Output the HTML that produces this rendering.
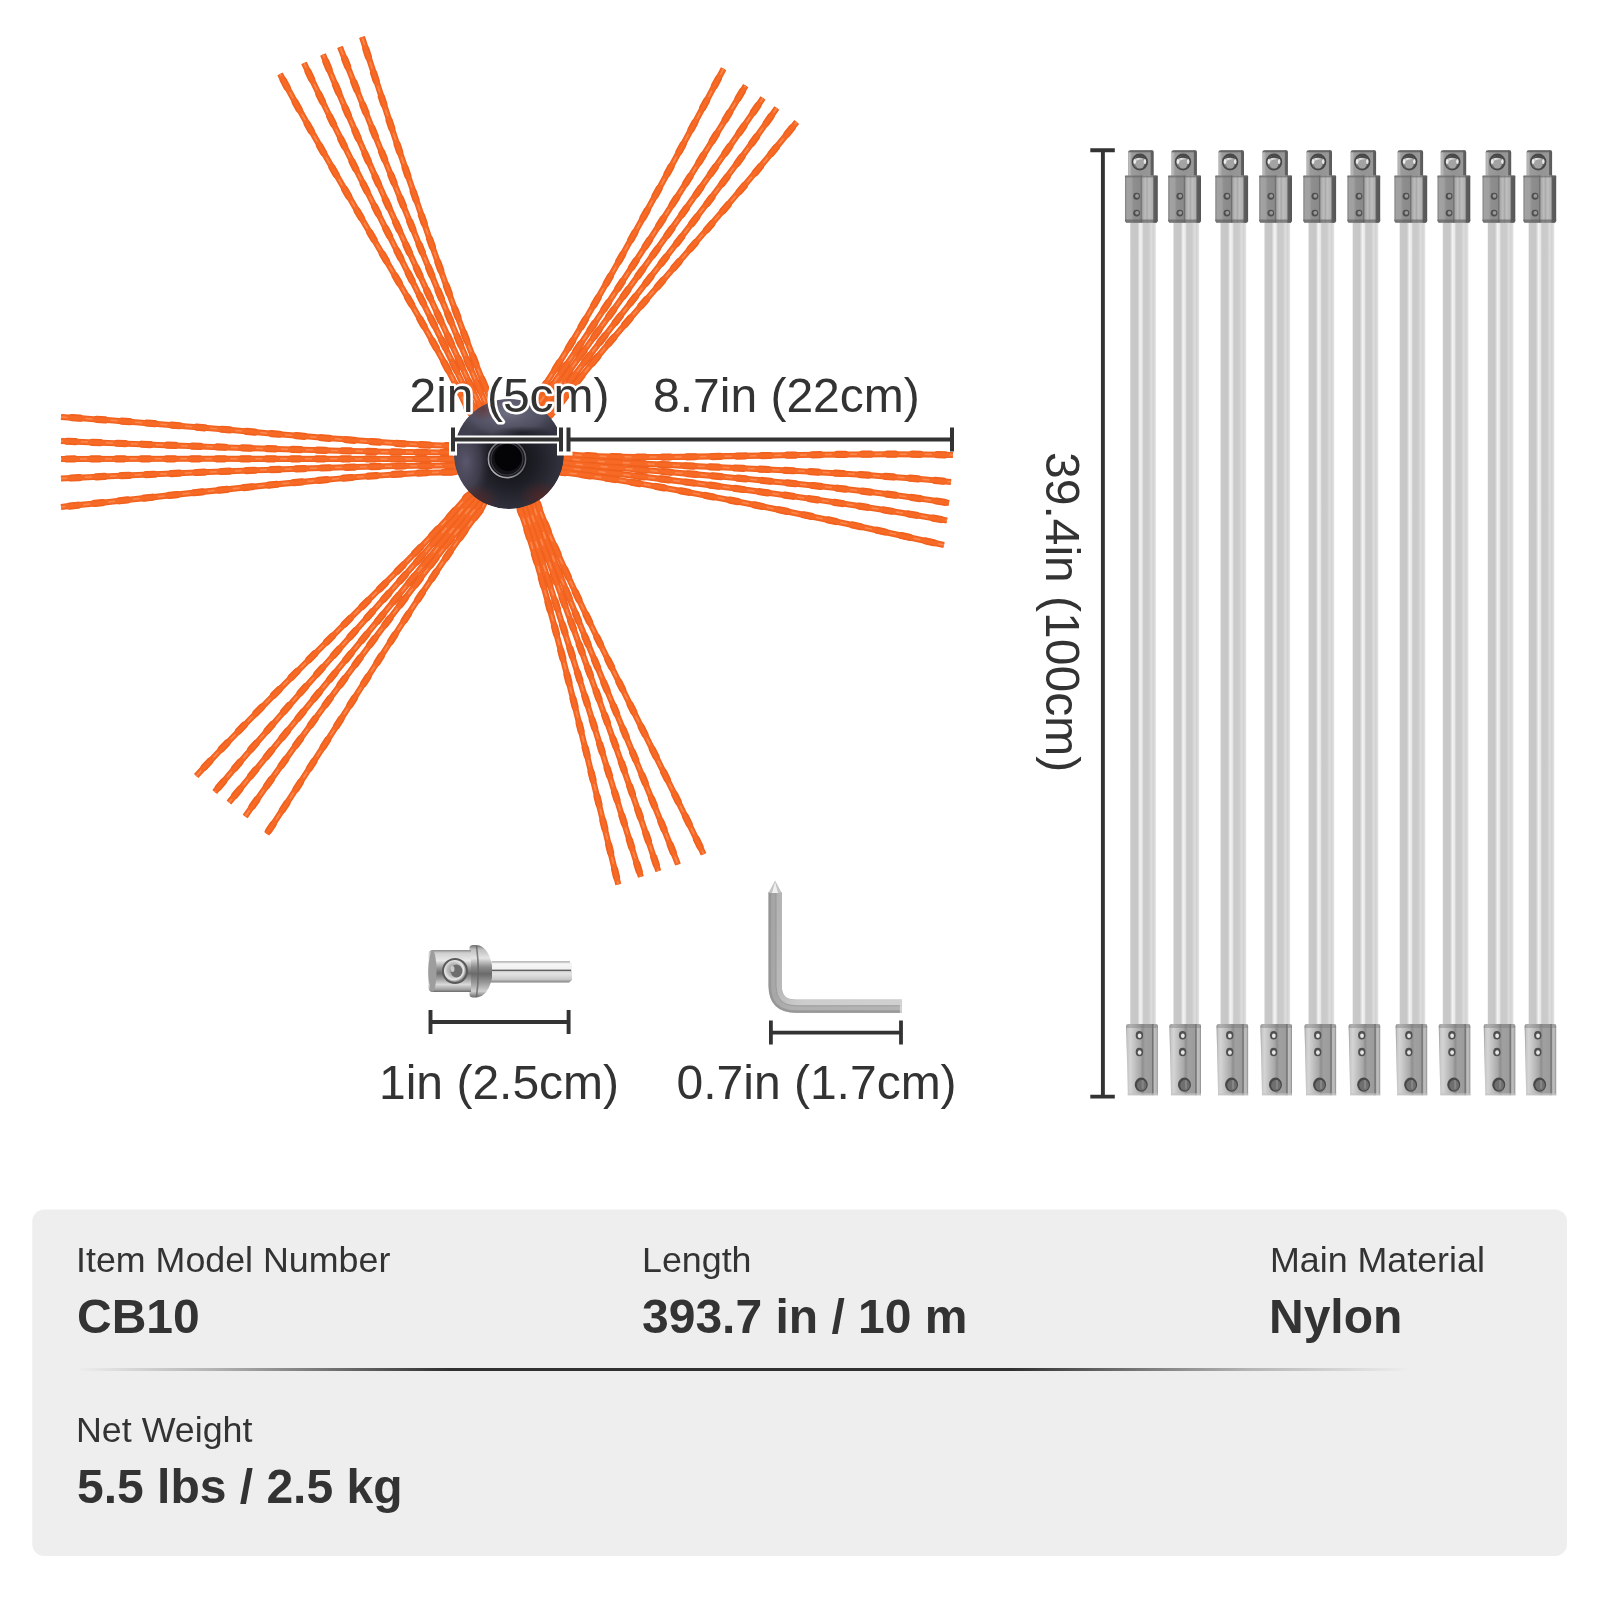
<!DOCTYPE html>
<html><head><meta charset="utf-8"><title>Chimney brush dimensions</title>
<style>
html,body{margin:0;padding:0;background:#fff;}
body{width:1600px;height:1600px;overflow:hidden;font-family:"Liberation Sans",sans-serif;}
svg{display:block;will-change:transform}
</style></head><body>
<svg width="1600" height="1600" viewBox="0 0 1600 1600">
<defs>
<radialGradient id="hubg" cx="52%" cy="56%" r="58%">
 <stop offset="0" stop-color="#0e0e12"/><stop offset=".4" stop-color="#1e1e26"/><stop offset=".75" stop-color="#30303c"/><stop offset="1" stop-color="#3c3a48"/>
</radialGradient>
<radialGradient id="hubhi" cx="50%" cy="45%" r="55%">
 <stop offset="0" stop-color="#7a7a8e" stop-opacity=".85"/><stop offset=".6" stop-color="#64647a" stop-opacity=".6"/><stop offset="1" stop-color="#4a4a5a" stop-opacity="0"/>
</radialGradient>
<radialGradient id="hubhi2" cx="50%" cy="50%" r="50%">
 <stop offset="0" stop-color="#66607a" stop-opacity=".8"/><stop offset=".6" stop-color="#5a566a" stop-opacity=".45"/><stop offset="1" stop-color="#40404e" stop-opacity="0"/>
</radialGradient>
<linearGradient id="ringg" x1="1" y1="0" x2="0" y2="1">
 <stop offset="0" stop-color="#4a4a52"/><stop offset=".5" stop-color="#77777f"/><stop offset="1" stop-color="#c4c4c8"/>
</linearGradient>
<radialGradient id="hubdk"><stop offset="0" stop-color="#121218" stop-opacity=".7"/><stop offset="1" stop-color="#121218" stop-opacity="0"/></radialGradient>
<radialGradient id="hubred"><stop offset="0" stop-color="#6a2218" stop-opacity=".5"/><stop offset="1" stop-color="#6a2218" stop-opacity="0"/></radialGradient>
<linearGradient id="rodg" x1="0" x2="1" y1="0" y2="0">
 <stop offset="0" stop-color="#c9c9c9"/><stop offset=".28" stop-color="#c7c7c7"/><stop offset=".38" stop-color="#f3f3f3"/><stop offset=".46" stop-color="#e8e8e8"/><stop offset=".52" stop-color="#cacaca"/><stop offset=".72" stop-color="#cbcbcb"/><stop offset=".82" stop-color="#dddddd"/><stop offset=".9" stop-color="#d2d2d2"/><stop offset="1" stop-color="#e4e4e4"/>
</linearGradient>
<linearGradient id="capg" x1="0" x2="1" y1="0" y2="0">
 <stop offset="0" stop-color="#a5a5a5"/><stop offset=".06" stop-color="#bcbcbc"/><stop offset=".14" stop-color="#9c9c9c"/><stop offset=".5" stop-color="#939393"/><stop offset=".86" stop-color="#989898"/><stop offset=".9" stop-color="#626262"/><stop offset="1" stop-color="#585858"/>
</linearGradient>
<linearGradient id="sleeveg" x1="0" x2="1" y1="0" y2="0">
 <stop offset="0" stop-color="#7d7d7d"/><stop offset=".06" stop-color="#a2a2a2"/><stop offset=".19" stop-color="#a0a0a0"/><stop offset=".26" stop-color="#8e8e8e"/><stop offset=".46" stop-color="#8a8a8a"/><stop offset=".495" stop-color="#6e6e6e"/><stop offset=".54" stop-color="#a8a8a8"/><stop offset=".62" stop-color="#bcbcbc"/><stop offset=".67" stop-color="#a9a9a9"/><stop offset=".73" stop-color="#bebebe"/><stop offset=".84" stop-color="#b0b0b0"/><stop offset=".88" stop-color="#5e5e5e"/><stop offset="1" stop-color="#555"/>
</linearGradient>
<linearGradient id="sleeveg2" x1="0" x2="1" y1="0" y2="0">
 <stop offset="0" stop-color="#868686"/><stop offset=".04" stop-color="#c6c6c6"/><stop offset=".13" stop-color="#d4d4d4"/><stop offset=".3" stop-color="#bdbdbd"/><stop offset=".45" stop-color="#a8a8a8"/><stop offset=".52" stop-color="#8f8f8f"/><stop offset=".6" stop-color="#a0a0a0"/><stop offset=".8" stop-color="#9c9c9c"/><stop offset=".84" stop-color="#686868"/><stop offset=".89" stop-color="#c0c0c0"/><stop offset=".96" stop-color="#b5b5b5"/><stop offset="1" stop-color="#868686"/>
</linearGradient>
<radialGradient id="ballg" cx="40%" cy="30%" r="70%">
 <stop offset="0" stop-color="#f2f2f2"/><stop offset=".4" stop-color="#b0b0b0"/><stop offset="1" stop-color="#4a4a4a"/>
</radialGradient>
<linearGradient id="shaftg" x1="0" x2="0" y1="0" y2="1">
 <stop offset="0" stop-color="#cfcfcf"/><stop offset=".12" stop-color="#f6f6f6"/><stop offset=".4" stop-color="#f0f0f0"/><stop offset=".46" stop-color="#d9d9d9"/><stop offset=".6" stop-color="#e2e2e2"/><stop offset=".85" stop-color="#c9c9c9"/><stop offset="1" stop-color="#7e7e7e"/>
</linearGradient>
<linearGradient id="headg" x1="0" x2="0" y1="0" y2="1">
 <stop offset="0" stop-color="#8a8a8a"/><stop offset=".07" stop-color="#cfcfcf"/><stop offset=".25" stop-color="#e8e8e8"/><stop offset=".42" stop-color="#9a9a9a"/><stop offset=".55" stop-color="#6c6c6c"/><stop offset=".68" stop-color="#9c9c9c"/><stop offset=".82" stop-color="#dadada"/><stop offset=".94" stop-color="#a0a0a0"/><stop offset="1" stop-color="#6a6a6a"/>
</linearGradient>
<linearGradient id="flangeg" x1="0" x2="0" y1="0" y2="1">
 <stop offset="0" stop-color="#6d6d6d"/><stop offset=".08" stop-color="#bdbdbd"/><stop offset=".25" stop-color="#e4e4e4"/><stop offset=".42" stop-color="#8c8c8c"/><stop offset=".55" stop-color="#6a6a6a"/><stop offset=".72" stop-color="#9a9a9a"/><stop offset=".88" stop-color="#d0d0d0"/><stop offset="1" stop-color="#6a6a6a"/>
</linearGradient>
<linearGradient id="keyg" x1="0" x2="1" y1="0" y2="0">
 <stop offset="0" stop-color="#8f8f8f"/><stop offset=".04" stop-color="#b9b9b9"/><stop offset=".08" stop-color="#9a9a9a"/><stop offset=".11" stop-color="#7c7c7c"/><stop offset=".12" stop-color="#b0b0b0"/><stop offset="1" stop-color="#b0b0b0"/>
</linearGradient>
<linearGradient id="keyg2" x1="0" x2="0" y1="1000" y2="1012.5" gradientUnits="userSpaceOnUse">
 <stop offset="0" stop-color="#d0d0d0" stop-opacity="0"/><stop offset=".01" stop-color="#cfcfcf" stop-opacity="0"/><stop offset="1" stop-color="#888" stop-opacity="0"/>
</linearGradient>
<radialGradient id="sockg" cx="45%" cy="45%" r="55%">
 <stop offset="0" stop-color="#8a8a8a"/><stop offset=".55" stop-color="#bdbdbd"/><stop offset=".8" stop-color="#e8e8e8"/><stop offset="1" stop-color="#8a8a8a"/>
</radialGradient>
<linearGradient id="keyA" x1="0" y1="0" x2="1" y2="1">
 <stop offset="0" stop-color="#a5a5a5"/><stop offset=".45" stop-color="#a7a7a7"/><stop offset=".6" stop-color="#b1b1b1"/><stop offset="1" stop-color="#b4b4b4"/>
</linearGradient>
<linearGradient id="keyB" x1="0" y1="0" x2="1" y2="1">
 <stop offset="0" stop-color="#b3b3b3"/><stop offset=".45" stop-color="#b9b9b9"/><stop offset=".6" stop-color="#cdcdcd"/><stop offset="1" stop-color="#d0d0d0"/>
</linearGradient>
<linearGradient id="divg" x1="0" x2="1" y1="0" y2="0">
 <stop offset="0" stop-color="#303030" stop-opacity="0"/><stop offset=".1" stop-color="#303030" stop-opacity=".3"/><stop offset=".28" stop-color="#303030" stop-opacity="1"/><stop offset=".7" stop-color="#303030" stop-opacity="1"/><stop offset=".88" stop-color="#303030" stop-opacity=".3"/><stop offset="1" stop-color="#303030" stop-opacity="0"/>
</linearGradient>
</defs>
<rect width="1600" height="1600" fill="#fff"/>
<g fill="none" stroke-linecap="butt">
<path d="M280.0,74.0 C339.2,186.1 436.4,338.9 467.5,409.1 L482.2,426.7" stroke="#f0611e" stroke-width="6.1"/>
<path d="M304.0,63.0 C357.8,177.4 442.5,336.4 473.2,406.6 L485.1,425.4" stroke="#f0611e" stroke-width="6.1"/>
<path d="M323.0,54.5 C370.1,171.8 447.6,334.2 479.0,404.0 L488.0,424.1" stroke="#f0611e" stroke-width="6.1"/>
<path d="M340.0,47.0 C386.0,164.7 454.1,331.3 484.8,401.4 L490.8,422.8" stroke="#f0611e" stroke-width="6.1"/>
<path d="M362.0,37.0 C400.5,157.8 459.2,328.8 490.5,398.9 L493.7,421.5" stroke="#f0611e" stroke-width="6.1"/>
<path d="M723.6,68.7 C664.8,179.3 579.8,336.6 535.7,398.4 L527.6,419.6" stroke="#f0611e" stroke-width="6.1"/>
<path d="M745.7,85.6 C682.3,192.8 584.6,340.6 540.4,401.7 L529.9,421.3" stroke="#f0611e" stroke-width="6.1"/>
<path d="M763.0,98.0 C693.5,201.0 588.6,343.6 545.0,405.0 L532.3,422.9" stroke="#f0611e" stroke-width="6.1"/>
<path d="M776.8,108.0 C706.1,210.3 593.8,347.3 549.6,408.3 L534.6,424.6" stroke="#f0611e" stroke-width="6.1"/>
<path d="M796.7,122.0 C719.3,219.7 598.1,350.1 554.3,411.6 L536.9,426.2" stroke="#f0611e" stroke-width="6.1"/>
<path d="M61.0,507.0 C190.8,493.4 375.8,471.6 455.0,472.2 L477.0,465.6" stroke="#f0611e" stroke-width="6.1"/>
<path d="M61.0,478.5 C191.0,472.2 376.1,465.0 455.0,465.6 L477.0,462.3" stroke="#f0611e" stroke-width="6.1"/>
<path d="M61.0,459.0 C191.0,458.6 376.2,458.9 455.0,459.0 L477.0,459.0" stroke="#f0611e" stroke-width="6.1"/>
<path d="M61.0,441.0 C191.0,446.4 376.2,452.9 455.0,452.4 L477.0,455.7" stroke="#f0611e" stroke-width="6.1"/>
<path d="M61.0,417.0 C191.2,424.6 376.0,445.2 455.0,445.8 L477.0,452.4" stroke="#f0611e" stroke-width="6.1"/>
<path d="M953.0,455.0 C824.3,451.0 640.5,462.3 562.9,453.8 L540.6,456.2" stroke="#f0611e" stroke-width="6.1"/>
<path d="M951.0,482.0 C823.1,468.6 639.9,466.2 562.5,458.4 L540.4,458.5" stroke="#f0611e" stroke-width="6.1"/>
<path d="M949.0,503.0 C822.0,482.6 639.5,470.3 562.0,463.0 L540.1,460.7" stroke="#f0611e" stroke-width="6.1"/>
<path d="M947.0,520.6 C820.5,497.8 639.0,475.5 561.5,467.6 L539.9,463.0" stroke="#f0611e" stroke-width="6.1"/>
<path d="M944.0,545.0 C818.5,516.6 638.6,480.3 561.1,472.2 L539.6,465.3" stroke="#f0611e" stroke-width="6.1"/>
<path d="M266.7,833.8 C337.9,726.9 432.7,569.7 481.4,509.1 L491.6,489.0" stroke="#f0611e" stroke-width="6.1"/>
<path d="M245.2,816.4 C318.5,711.4 428.1,565.7 477.7,506.0 L489.8,487.5" stroke="#f0611e" stroke-width="6.1"/>
<path d="M229.0,802.5 C309.7,703.5 425.4,563.2 474.0,503.0 L487.9,486.0" stroke="#f0611e" stroke-width="6.1"/>
<path d="M214.7,792.0 C296.7,693.6 420.9,559.8 470.3,500.0 L486.1,484.5" stroke="#f0611e" stroke-width="6.1"/>
<path d="M196.2,776.0 C282.7,681.3 417.0,556.7 466.6,496.9 L484.2,482.9" stroke="#f0611e" stroke-width="6.1"/>
<path d="M703.6,854.2 C648.9,738.6 563.1,577.2 537.7,503.9 L526.0,484.7" stroke="#f0611e" stroke-width="6.1"/>
<path d="M678.0,864.5 C631.2,745.6 559.0,578.5 533.3,505.5 L523.8,485.5" stroke="#f0611e" stroke-width="6.1"/>
<path d="M658.3,871.1 C619.0,749.7 555.3,579.7 529.0,507.0 L521.6,486.3" stroke="#f0611e" stroke-width="6.1"/>
<path d="M640.9,876.8 C602.9,755.2 550.1,581.5 524.7,508.5 L519.5,487.0" stroke="#f0611e" stroke-width="6.1"/>
<path d="M618.3,884.5 C588.3,760.3 546.4,583.0 520.3,510.1 L517.3,487.8" stroke="#f0611e" stroke-width="6.1"/>
<path d="M280.0,74.0 C339.2,186.1 436.4,338.9 467.5,409.1 L482.2,426.7" stroke="#f0611e" stroke-width="7.2" stroke-dasharray="8 17" stroke-dashoffset="17.9" stroke-linecap="round"/>
<path d="M280.0,74.0 C339.2,186.1 436.4,338.9 467.5,409.1 L482.2,426.7" stroke="#f76a26" stroke-width="3.8"/>
<path d="M280.0,74.0 C339.2,186.1 436.4,338.9 467.5,409.1 L482.2,426.7" stroke="#ff9c6a" stroke-width="1.5" stroke-dasharray="7 18" stroke-dashoffset="29.4" opacity=".6"/>
<path d="M304.0,63.0 C357.8,177.4 442.5,336.4 473.2,406.6 L485.1,425.4" stroke="#f0611e" stroke-width="7.2" stroke-dasharray="8 17" stroke-dashoffset="15.2" stroke-linecap="round"/>
<path d="M304.0,63.0 C357.8,177.4 442.5,336.4 473.2,406.6 L485.1,425.4" stroke="#f76a26" stroke-width="3.8"/>
<path d="M304.0,63.0 C357.8,177.4 442.5,336.4 473.2,406.6 L485.1,425.4" stroke="#ff9c6a" stroke-width="1.5" stroke-dasharray="7 18" stroke-dashoffset="26.7" opacity=".6"/>
<path d="M323.0,54.5 C370.1,171.8 447.6,334.2 479.0,404.0 L488.0,424.1" stroke="#f0611e" stroke-width="7.2" stroke-dasharray="8 17" stroke-dashoffset="17.0" stroke-linecap="round"/>
<path d="M323.0,54.5 C370.1,171.8 447.6,334.2 479.0,404.0 L488.0,424.1" stroke="#f76a26" stroke-width="3.8"/>
<path d="M323.0,54.5 C370.1,171.8 447.6,334.2 479.0,404.0 L488.0,424.1" stroke="#ff9c6a" stroke-width="1.5" stroke-dasharray="7 18" stroke-dashoffset="28.5" opacity=".6"/>
<path d="M340.0,47.0 C386.0,164.7 454.1,331.3 484.8,401.4 L490.8,422.8" stroke="#f0611e" stroke-width="7.2" stroke-dasharray="8 17" stroke-dashoffset="12.1" stroke-linecap="round"/>
<path d="M340.0,47.0 C386.0,164.7 454.1,331.3 484.8,401.4 L490.8,422.8" stroke="#f76a26" stroke-width="3.8"/>
<path d="M340.0,47.0 C386.0,164.7 454.1,331.3 484.8,401.4 L490.8,422.8" stroke="#ff9c6a" stroke-width="1.5" stroke-dasharray="7 18" stroke-dashoffset="23.6" opacity=".6"/>
<path d="M362.0,37.0 C400.5,157.8 459.2,328.8 490.5,398.9 L493.7,421.5" stroke="#f0611e" stroke-width="7.2" stroke-dasharray="8 17" stroke-dashoffset="12.1" stroke-linecap="round"/>
<path d="M362.0,37.0 C400.5,157.8 459.2,328.8 490.5,398.9 L493.7,421.5" stroke="#f76a26" stroke-width="3.8"/>
<path d="M362.0,37.0 C400.5,157.8 459.2,328.8 490.5,398.9 L493.7,421.5" stroke="#ff9c6a" stroke-width="1.5" stroke-dasharray="7 18" stroke-dashoffset="23.6" opacity=".6"/>
<path d="M723.6,68.7 C664.8,179.3 579.8,336.6 535.7,398.4 L527.6,419.6" stroke="#f0611e" stroke-width="7.2" stroke-dasharray="8 17" stroke-dashoffset="13.6" stroke-linecap="round"/>
<path d="M723.6,68.7 C664.8,179.3 579.8,336.6 535.7,398.4 L527.6,419.6" stroke="#f76a26" stroke-width="3.8"/>
<path d="M723.6,68.7 C664.8,179.3 579.8,336.6 535.7,398.4 L527.6,419.6" stroke="#ff9c6a" stroke-width="1.5" stroke-dasharray="7 18" stroke-dashoffset="25.1" opacity=".6"/>
<path d="M745.7,85.6 C682.3,192.8 584.6,340.6 540.4,401.7 L529.9,421.3" stroke="#f0611e" stroke-width="7.2" stroke-dasharray="8 17" stroke-dashoffset="18.3" stroke-linecap="round"/>
<path d="M745.7,85.6 C682.3,192.8 584.6,340.6 540.4,401.7 L529.9,421.3" stroke="#f76a26" stroke-width="3.8"/>
<path d="M745.7,85.6 C682.3,192.8 584.6,340.6 540.4,401.7 L529.9,421.3" stroke="#ff9c6a" stroke-width="1.5" stroke-dasharray="7 18" stroke-dashoffset="29.8" opacity=".6"/>
<path d="M763.0,98.0 C693.5,201.0 588.6,343.6 545.0,405.0 L532.3,422.9" stroke="#f0611e" stroke-width="7.2" stroke-dasharray="8 17" stroke-dashoffset="15.8" stroke-linecap="round"/>
<path d="M763.0,98.0 C693.5,201.0 588.6,343.6 545.0,405.0 L532.3,422.9" stroke="#f76a26" stroke-width="3.8"/>
<path d="M763.0,98.0 C693.5,201.0 588.6,343.6 545.0,405.0 L532.3,422.9" stroke="#ff9c6a" stroke-width="1.5" stroke-dasharray="7 18" stroke-dashoffset="27.3" opacity=".6"/>
<path d="M776.8,108.0 C706.1,210.3 593.8,347.3 549.6,408.3 L534.6,424.6" stroke="#f0611e" stroke-width="7.2" stroke-dasharray="8 17" stroke-dashoffset="14.6" stroke-linecap="round"/>
<path d="M776.8,108.0 C706.1,210.3 593.8,347.3 549.6,408.3 L534.6,424.6" stroke="#f76a26" stroke-width="3.8"/>
<path d="M776.8,108.0 C706.1,210.3 593.8,347.3 549.6,408.3 L534.6,424.6" stroke="#ff9c6a" stroke-width="1.5" stroke-dasharray="7 18" stroke-dashoffset="26.1" opacity=".6"/>
<path d="M796.7,122.0 C719.3,219.7 598.1,350.1 554.3,411.6 L536.9,426.2" stroke="#f0611e" stroke-width="7.2" stroke-dasharray="8 17" stroke-dashoffset="17.4" stroke-linecap="round"/>
<path d="M796.7,122.0 C719.3,219.7 598.1,350.1 554.3,411.6 L536.9,426.2" stroke="#f76a26" stroke-width="3.8"/>
<path d="M796.7,122.0 C719.3,219.7 598.1,350.1 554.3,411.6 L536.9,426.2" stroke="#ff9c6a" stroke-width="1.5" stroke-dasharray="7 18" stroke-dashoffset="28.9" opacity=".6"/>
<path d="M61.0,507.0 C190.8,493.4 375.8,471.6 455.0,472.2 L477.0,465.6" stroke="#f0611e" stroke-width="7.2" stroke-dasharray="8 17" stroke-dashoffset="16.0" stroke-linecap="round"/>
<path d="M61.0,507.0 C190.8,493.4 375.8,471.6 455.0,472.2 L477.0,465.6" stroke="#f76a26" stroke-width="3.8"/>
<path d="M61.0,507.0 C190.8,493.4 375.8,471.6 455.0,472.2 L477.0,465.6" stroke="#ff9c6a" stroke-width="1.5" stroke-dasharray="7 18" stroke-dashoffset="27.5" opacity=".6"/>
<path d="M61.0,478.5 C191.0,472.2 376.1,465.0 455.0,465.6 L477.0,462.3" stroke="#f0611e" stroke-width="7.2" stroke-dasharray="8 17" stroke-dashoffset="14.5" stroke-linecap="round"/>
<path d="M61.0,478.5 C191.0,472.2 376.1,465.0 455.0,465.6 L477.0,462.3" stroke="#f76a26" stroke-width="3.8"/>
<path d="M61.0,478.5 C191.0,472.2 376.1,465.0 455.0,465.6 L477.0,462.3" stroke="#ff9c6a" stroke-width="1.5" stroke-dasharray="7 18" stroke-dashoffset="26.0" opacity=".6"/>
<path d="M61.0,459.0 C191.0,458.6 376.2,458.9 455.0,459.0 L477.0,459.0" stroke="#f0611e" stroke-width="7.2" stroke-dasharray="8 17" stroke-dashoffset="19.4" stroke-linecap="round"/>
<path d="M61.0,459.0 C191.0,458.6 376.2,458.9 455.0,459.0 L477.0,459.0" stroke="#f76a26" stroke-width="3.8"/>
<path d="M61.0,459.0 C191.0,458.6 376.2,458.9 455.0,459.0 L477.0,459.0" stroke="#ff9c6a" stroke-width="1.5" stroke-dasharray="7 18" stroke-dashoffset="30.9" opacity=".6"/>
<path d="M61.0,441.0 C191.0,446.4 376.2,452.9 455.0,452.4 L477.0,455.7" stroke="#f0611e" stroke-width="7.2" stroke-dasharray="8 17" stroke-dashoffset="18.5" stroke-linecap="round"/>
<path d="M61.0,441.0 C191.0,446.4 376.2,452.9 455.0,452.4 L477.0,455.7" stroke="#f76a26" stroke-width="3.8"/>
<path d="M61.0,441.0 C191.0,446.4 376.2,452.9 455.0,452.4 L477.0,455.7" stroke="#ff9c6a" stroke-width="1.5" stroke-dasharray="7 18" stroke-dashoffset="30.0" opacity=".6"/>
<path d="M61.0,417.0 C191.2,424.6 376.0,445.2 455.0,445.8 L477.0,452.4" stroke="#f0611e" stroke-width="7.2" stroke-dasharray="8 17" stroke-dashoffset="13.9" stroke-linecap="round"/>
<path d="M61.0,417.0 C191.2,424.6 376.0,445.2 455.0,445.8 L477.0,452.4" stroke="#f76a26" stroke-width="3.8"/>
<path d="M61.0,417.0 C191.2,424.6 376.0,445.2 455.0,445.8 L477.0,452.4" stroke="#ff9c6a" stroke-width="1.5" stroke-dasharray="7 18" stroke-dashoffset="25.4" opacity=".6"/>
<path d="M953.0,455.0 C824.3,451.0 640.5,462.3 562.9,453.8 L540.6,456.2" stroke="#f0611e" stroke-width="7.2" stroke-dasharray="8 17" stroke-dashoffset="17.2" stroke-linecap="round"/>
<path d="M953.0,455.0 C824.3,451.0 640.5,462.3 562.9,453.8 L540.6,456.2" stroke="#f76a26" stroke-width="3.8"/>
<path d="M953.0,455.0 C824.3,451.0 640.5,462.3 562.9,453.8 L540.6,456.2" stroke="#ff9c6a" stroke-width="1.5" stroke-dasharray="7 18" stroke-dashoffset="28.7" opacity=".6"/>
<path d="M951.0,482.0 C823.1,468.6 639.9,466.2 562.5,458.4 L540.4,458.5" stroke="#f0611e" stroke-width="7.2" stroke-dasharray="8 17" stroke-dashoffset="16.8" stroke-linecap="round"/>
<path d="M951.0,482.0 C823.1,468.6 639.9,466.2 562.5,458.4 L540.4,458.5" stroke="#f76a26" stroke-width="3.8"/>
<path d="M951.0,482.0 C823.1,468.6 639.9,466.2 562.5,458.4 L540.4,458.5" stroke="#ff9c6a" stroke-width="1.5" stroke-dasharray="7 18" stroke-dashoffset="28.3" opacity=".6"/>
<path d="M949.0,503.0 C822.0,482.6 639.5,470.3 562.0,463.0 L540.1,460.7" stroke="#f0611e" stroke-width="7.2" stroke-dasharray="8 17" stroke-dashoffset="20.3" stroke-linecap="round"/>
<path d="M949.0,503.0 C822.0,482.6 639.5,470.3 562.0,463.0 L540.1,460.7" stroke="#f76a26" stroke-width="3.8"/>
<path d="M949.0,503.0 C822.0,482.6 639.5,470.3 562.0,463.0 L540.1,460.7" stroke="#ff9c6a" stroke-width="1.5" stroke-dasharray="7 18" stroke-dashoffset="31.8" opacity=".6"/>
<path d="M947.0,520.6 C820.5,497.8 639.0,475.5 561.5,467.6 L539.9,463.0" stroke="#f0611e" stroke-width="7.2" stroke-dasharray="8 17" stroke-dashoffset="18.8" stroke-linecap="round"/>
<path d="M947.0,520.6 C820.5,497.8 639.0,475.5 561.5,467.6 L539.9,463.0" stroke="#f76a26" stroke-width="3.8"/>
<path d="M947.0,520.6 C820.5,497.8 639.0,475.5 561.5,467.6 L539.9,463.0" stroke="#ff9c6a" stroke-width="1.5" stroke-dasharray="7 18" stroke-dashoffset="30.3" opacity=".6"/>
<path d="M944.0,545.0 C818.5,516.6 638.6,480.3 561.1,472.2 L539.6,465.3" stroke="#f0611e" stroke-width="7.2" stroke-dasharray="8 17" stroke-dashoffset="14.4" stroke-linecap="round"/>
<path d="M944.0,545.0 C818.5,516.6 638.6,480.3 561.1,472.2 L539.6,465.3" stroke="#f76a26" stroke-width="3.8"/>
<path d="M944.0,545.0 C818.5,516.6 638.6,480.3 561.1,472.2 L539.6,465.3" stroke="#ff9c6a" stroke-width="1.5" stroke-dasharray="7 18" stroke-dashoffset="25.9" opacity=".6"/>
<path d="M266.7,833.8 C337.9,726.9 432.7,569.7 481.4,509.1 L491.6,489.0" stroke="#f0611e" stroke-width="7.2" stroke-dasharray="8 17" stroke-dashoffset="21.3" stroke-linecap="round"/>
<path d="M266.7,833.8 C337.9,726.9 432.7,569.7 481.4,509.1 L491.6,489.0" stroke="#f76a26" stroke-width="3.8"/>
<path d="M266.7,833.8 C337.9,726.9 432.7,569.7 481.4,509.1 L491.6,489.0" stroke="#ff9c6a" stroke-width="1.5" stroke-dasharray="7 18" stroke-dashoffset="32.8" opacity=".6"/>
<path d="M245.2,816.4 C318.5,711.4 428.1,565.7 477.7,506.0 L489.8,487.5" stroke="#f0611e" stroke-width="7.2" stroke-dasharray="8 17" stroke-dashoffset="12.7" stroke-linecap="round"/>
<path d="M245.2,816.4 C318.5,711.4 428.1,565.7 477.7,506.0 L489.8,487.5" stroke="#f76a26" stroke-width="3.8"/>
<path d="M245.2,816.4 C318.5,711.4 428.1,565.7 477.7,506.0 L489.8,487.5" stroke="#ff9c6a" stroke-width="1.5" stroke-dasharray="7 18" stroke-dashoffset="24.2" opacity=".6"/>
<path d="M229.0,802.5 C309.7,703.5 425.4,563.2 474.0,503.0 L487.9,486.0" stroke="#f0611e" stroke-width="7.2" stroke-dasharray="8 17" stroke-dashoffset="15.7" stroke-linecap="round"/>
<path d="M229.0,802.5 C309.7,703.5 425.4,563.2 474.0,503.0 L487.9,486.0" stroke="#f76a26" stroke-width="3.8"/>
<path d="M229.0,802.5 C309.7,703.5 425.4,563.2 474.0,503.0 L487.9,486.0" stroke="#ff9c6a" stroke-width="1.5" stroke-dasharray="7 18" stroke-dashoffset="27.2" opacity=".6"/>
<path d="M214.7,792.0 C296.7,693.6 420.9,559.8 470.3,500.0 L486.1,484.5" stroke="#f0611e" stroke-width="7.2" stroke-dasharray="8 17" stroke-dashoffset="19.1" stroke-linecap="round"/>
<path d="M214.7,792.0 C296.7,693.6 420.9,559.8 470.3,500.0 L486.1,484.5" stroke="#f76a26" stroke-width="3.8"/>
<path d="M214.7,792.0 C296.7,693.6 420.9,559.8 470.3,500.0 L486.1,484.5" stroke="#ff9c6a" stroke-width="1.5" stroke-dasharray="7 18" stroke-dashoffset="30.6" opacity=".6"/>
<path d="M196.2,776.0 C282.7,681.3 417.0,556.7 466.6,496.9 L484.2,482.9" stroke="#f0611e" stroke-width="7.2" stroke-dasharray="8 17" stroke-dashoffset="13.0" stroke-linecap="round"/>
<path d="M196.2,776.0 C282.7,681.3 417.0,556.7 466.6,496.9 L484.2,482.9" stroke="#f76a26" stroke-width="3.8"/>
<path d="M196.2,776.0 C282.7,681.3 417.0,556.7 466.6,496.9 L484.2,482.9" stroke="#ff9c6a" stroke-width="1.5" stroke-dasharray="7 18" stroke-dashoffset="24.5" opacity=".6"/>
<path d="M703.6,854.2 C648.9,738.6 563.1,577.2 537.7,503.9 L526.0,484.7" stroke="#f0611e" stroke-width="7.2" stroke-dasharray="8 17" stroke-dashoffset="16.4" stroke-linecap="round"/>
<path d="M703.6,854.2 C648.9,738.6 563.1,577.2 537.7,503.9 L526.0,484.7" stroke="#f76a26" stroke-width="3.8"/>
<path d="M703.6,854.2 C648.9,738.6 563.1,577.2 537.7,503.9 L526.0,484.7" stroke="#ff9c6a" stroke-width="1.5" stroke-dasharray="7 18" stroke-dashoffset="27.9" opacity=".6"/>
<path d="M678.0,864.5 C631.2,745.6 559.0,578.5 533.3,505.5 L523.8,485.5" stroke="#f0611e" stroke-width="7.2" stroke-dasharray="8 17" stroke-dashoffset="11.9" stroke-linecap="round"/>
<path d="M678.0,864.5 C631.2,745.6 559.0,578.5 533.3,505.5 L523.8,485.5" stroke="#f76a26" stroke-width="3.8"/>
<path d="M678.0,864.5 C631.2,745.6 559.0,578.5 533.3,505.5 L523.8,485.5" stroke="#ff9c6a" stroke-width="1.5" stroke-dasharray="7 18" stroke-dashoffset="23.4" opacity=".6"/>
<path d="M658.3,871.1 C619.0,749.7 555.3,579.7 529.0,507.0 L521.6,486.3" stroke="#f0611e" stroke-width="7.2" stroke-dasharray="8 17" stroke-dashoffset="18.2" stroke-linecap="round"/>
<path d="M658.3,871.1 C619.0,749.7 555.3,579.7 529.0,507.0 L521.6,486.3" stroke="#f76a26" stroke-width="3.8"/>
<path d="M658.3,871.1 C619.0,749.7 555.3,579.7 529.0,507.0 L521.6,486.3" stroke="#ff9c6a" stroke-width="1.5" stroke-dasharray="7 18" stroke-dashoffset="29.7" opacity=".6"/>
<path d="M640.9,876.8 C602.9,755.2 550.1,581.5 524.7,508.5 L519.5,487.0" stroke="#f0611e" stroke-width="7.2" stroke-dasharray="8 17" stroke-dashoffset="19.1" stroke-linecap="round"/>
<path d="M640.9,876.8 C602.9,755.2 550.1,581.5 524.7,508.5 L519.5,487.0" stroke="#f76a26" stroke-width="3.8"/>
<path d="M640.9,876.8 C602.9,755.2 550.1,581.5 524.7,508.5 L519.5,487.0" stroke="#ff9c6a" stroke-width="1.5" stroke-dasharray="7 18" stroke-dashoffset="30.6" opacity=".6"/>
<path d="M618.3,884.5 C588.3,760.3 546.4,583.0 520.3,510.1 L517.3,487.8" stroke="#f0611e" stroke-width="7.2" stroke-dasharray="8 17" stroke-dashoffset="17.2" stroke-linecap="round"/>
<path d="M618.3,884.5 C588.3,760.3 546.4,583.0 520.3,510.1 L517.3,487.8" stroke="#f76a26" stroke-width="3.8"/>
<path d="M618.3,884.5 C588.3,760.3 546.4,583.0 520.3,510.1 L517.3,487.8" stroke="#ff9c6a" stroke-width="1.5" stroke-dasharray="7 18" stroke-dashoffset="28.7" opacity=".6"/>
</g>
<clipPath id="hubclip"><circle cx="509" cy="454" r="55"/></clipPath>
<g clip-path="url(#hubclip)">
<circle cx="509" cy="454" r="55" fill="url(#hubg)"/>
<ellipse cx="507" cy="416" rx="54" ry="30" fill="url(#hubhi)"/>
<ellipse cx="466" cy="462" rx="24" ry="42" fill="url(#hubhi2)"/>
<ellipse cx="522" cy="433" rx="30" ry="7" fill="url(#hubdk)"/>
<ellipse cx="476" cy="500" rx="24" ry="16" fill="url(#hubred)"/>
<ellipse cx="483" cy="409" rx="16" ry="12" fill="url(#hubred)"/>
<ellipse cx="542" cy="496" rx="24" ry="16" fill="url(#hubred)"/>
<circle cx="507" cy="459" r="20" fill="#121217"/>
<circle cx="507" cy="459" r="18.6" fill="none" stroke="url(#ringg)" stroke-width="1.6"/>
<circle cx="507" cy="459" r="16" fill="none" stroke="#3a3a42" stroke-width="1.2"/>
<circle cx="508" cy="457.5" r="13.5" fill="#040406"/>
</g>
<path d="M453,427.5V451.5M561,427.5V451.5M453,439.5H561" stroke="#fff" stroke-width="8" fill="none" stroke-linecap="square"/><path d="M453,427.5V451.5M561,427.5V451.5M453,439.5H561" stroke="#333333" stroke-width="4" fill="none"/>
<path d="M568.5,427.5V451.5M568.5,439.5H640" stroke="#fff" stroke-width="8" fill="none" stroke-linecap="square"/>
<path d="M568.5,427.5V451.5M952,427.5V451.5M568.5,439.5H952" stroke="#333333" stroke-width="4" fill="none"/>
<path d="M430.5,1010.0V1034.0M568.6,1010.0V1034.0M430.5,1022H568.6" stroke="#333333" stroke-width="3.9" fill="none"/>
<path d="M770.9,1020.5999999999999V1044.6M901,1020.5999999999999V1044.6M770.9,1032.6H901" stroke="#333333" stroke-width="3.8" fill="none"/>
<path d="M1090.3,150.3H1114.8M1090.3,1096.6H1114.8M1102.9,150V1097" stroke="#333333" stroke-width="3.9" fill="none"/>
<g>
<path d="M490,961.5 H569 L572,964 V980 L569,982.5 H490 Z" fill="url(#shaftg)"/>
<rect x="492" y="969.6" width="79" height="1.5" fill="#4a4a4a" opacity=".85"/>
<rect x="492" y="961.3" width="78" height="1" fill="#9a9a9a" opacity=".8"/>
<path d="M469.5,947.5 Q470,945 473,945 H477 Q487,946.5 491,961 L492,965 V978 L491,982 Q487,996 477,997.5 H473 Q470,997.5 469.5,995 Z" fill="url(#flangeg)"/>
<path d="M476.5,946 Q480,971 476.5,997" stroke="#666" stroke-width="1.6" fill="none" opacity=".8"/>
<path d="M433,950 H471 V992 H433 Q428.5,992 428.5,987 V955 Q428.5,950 433,950 Z" fill="url(#headg)"/>
<ellipse cx="432.5" cy="971" rx="4" ry="20.5" fill="#9d9d9d"/>
<circle cx="455" cy="971" r="13" fill="#5a5a5a"/>
<circle cx="455" cy="971" r="11" fill="url(#sockg)"/>
<ellipse cx="456.5" cy="971" rx="6" ry="6.5" fill="#6e6e6e"/>
<ellipse cx="452.5" cy="969" rx="2" ry="3" fill="#e0e0e0" opacity=".8"/>
</g>
<g fill="none">
<path d="M775.1,892 V986 Q775.1,1006.2 796,1006.2 H901.7" stroke="url(#keyA)" stroke-width="13.4"/>
<path d="M769.9,892 V986 Q769.9,1011.5 796,1011.5 H901.7" stroke="#929292" stroke-width="2.4" opacity=".8"/>
<path d="M779,892 V986 Q779,1002.6 796,1002.6 H901.7" stroke="url(#keyB)" stroke-width="5.4"/>
<path d="M776,892 V986 Q776,1005.8 796,1005.8 H901.7" stroke="#8e8e8e" stroke-width="1" opacity=".55"/>
<path d="M768.4,893 L775.1,880.5 L781.8,893 Z" fill="#c4c4c4" stroke="none"/>
<path d="M772,893 L775.1,882 L778,893 Z" fill="#f0f0f0" stroke="none"/>
<rect x="899.9" y="999.6" width="1.8" height="13.3" fill="#d4d4d4" stroke="none"/>
</g>
<g transform="translate(1128.1,0)"><rect x="2.2" y="220" width="25.6" height="808" fill="url(#rodg)"/><path d="M0,152.5 Q0,150.3 2.5,150.3 H23.5 Q25.6,150.3 25.6,152.5 V176 H0Z" fill="url(#capg)"/><path d="M0,152.5 Q0,150.3 2.5,150.3 H23.5 Q25.6,150.3 25.6,152.5 V152.2 H0Z" fill="#5e5e5e" opacity=".85"/><ellipse cx="11.7" cy="162" rx="8.2" ry="8.5" fill="#474747"/><ellipse cx="11.7" cy="162.6" rx="6.6" ry="6.9" fill="url(#ballg)"/><ellipse cx="11.8" cy="164" rx="4.3" ry="4.6" fill="#a3a3a3"/><path d="M5.8,159 Q11.7,152.5 17.6,159 Q11.7,156.5 5.8,159Z" fill="#2f2f2f" opacity=".85"/><ellipse cx="6.6" cy="161.5" rx="1.3" ry="2.6" fill="#f4f4f4" opacity=".9"/><ellipse cx="16.8" cy="161.5" rx="1.3" ry="2.6" fill="#f4f4f4" opacity=".9"/><path d="M-3.1,176.6 Q-3.1,175.6 -2.1,175.6 H28.7 Q29.7,175.6 29.7,176.6 V221 L28.5,222.8 H-1.9 L-3.1,221 Z" fill="url(#sleeveg)"/><rect x="-3.1" y="175.6" width="32.8" height="1.8" fill="#666" opacity=".65"/><path d="M-3.1,219.4 H29.7 V221 L28.5,222.8 H-1.9 L-3.1,221Z" fill="#5a5a5a" opacity=".6"/><circle cx="8.5" cy="196.25" r="3.4" fill="#4e4e4e"/><circle cx="8.9" cy="195.9" r="1.9" fill="#9a9a9a"/><circle cx="8.5" cy="213.1" r="3.4" fill="#4e4e4e"/><circle cx="8.9" cy="212.8" r="1.9" fill="#9a9a9a"/><path d="M-1.85,1026 Q-1.85,1024 0.15,1024 H27.7 Q29.7,1024 29.7,1026 V1095.3 H-0.3 Z" fill="url(#sleeveg2)"/><path d="M-1.85,1026 Q-1.85,1024 0.15,1024 H27.7 Q29.7,1024 29.7,1026 V1028 H-1.8Z" fill="#777" opacity=".4"/><rect x="-0.3" y="1093.3" width="30" height="2" fill="#c4c4c4" opacity=".7"/><ellipse cx="11.3" cy="1035.2" rx="3.7" ry="4.3" fill="#4f4f4f"/><ellipse cx="11.5" cy="1035.7" rx="1.9" ry="2.2" fill="#e6e6e6"/><ellipse cx="11.3" cy="1052" rx="3.7" ry="4.3" fill="#4f4f4f"/><ellipse cx="11.5" cy="1052.5" rx="1.9" ry="2.2" fill="#e6e6e6"/><ellipse cx="13.15" cy="1084.7" rx="6.5" ry="7.1" fill="#484848"/><ellipse cx="13.6" cy="1085.2" rx="4.8" ry="5.4" fill="#6f6f6f"/><rect x="13.6" y="1080" width="2" height="9" rx="1" fill="#8c8c8c" opacity=".8"/></g>
<g transform="translate(1171.3,0)"><rect x="2.2" y="220" width="25.6" height="808" fill="url(#rodg)"/><path d="M0,152.5 Q0,150.3 2.5,150.3 H23.5 Q25.6,150.3 25.6,152.5 V176 H0Z" fill="url(#capg)"/><path d="M0,152.5 Q0,150.3 2.5,150.3 H23.5 Q25.6,150.3 25.6,152.5 V152.2 H0Z" fill="#5e5e5e" opacity=".85"/><ellipse cx="11.7" cy="162" rx="8.2" ry="8.5" fill="#474747"/><ellipse cx="11.7" cy="162.6" rx="6.6" ry="6.9" fill="url(#ballg)"/><ellipse cx="11.8" cy="164" rx="4.3" ry="4.6" fill="#a3a3a3"/><path d="M5.8,159 Q11.7,152.5 17.6,159 Q11.7,156.5 5.8,159Z" fill="#2f2f2f" opacity=".85"/><ellipse cx="6.6" cy="161.5" rx="1.3" ry="2.6" fill="#f4f4f4" opacity=".9"/><ellipse cx="16.8" cy="161.5" rx="1.3" ry="2.6" fill="#f4f4f4" opacity=".9"/><path d="M-3.1,176.6 Q-3.1,175.6 -2.1,175.6 H28.7 Q29.7,175.6 29.7,176.6 V221 L28.5,222.8 H-1.9 L-3.1,221 Z" fill="url(#sleeveg)"/><rect x="-3.1" y="175.6" width="32.8" height="1.8" fill="#666" opacity=".65"/><path d="M-3.1,219.4 H29.7 V221 L28.5,222.8 H-1.9 L-3.1,221Z" fill="#5a5a5a" opacity=".6"/><circle cx="8.5" cy="196.25" r="3.4" fill="#4e4e4e"/><circle cx="8.9" cy="195.9" r="1.9" fill="#9a9a9a"/><circle cx="8.5" cy="213.1" r="3.4" fill="#4e4e4e"/><circle cx="8.9" cy="212.8" r="1.9" fill="#9a9a9a"/><path d="M-1.85,1026 Q-1.85,1024 0.15,1024 H27.7 Q29.7,1024 29.7,1026 V1095.3 H-0.3 Z" fill="url(#sleeveg2)"/><path d="M-1.85,1026 Q-1.85,1024 0.15,1024 H27.7 Q29.7,1024 29.7,1026 V1028 H-1.8Z" fill="#777" opacity=".4"/><rect x="-0.3" y="1093.3" width="30" height="2" fill="#c4c4c4" opacity=".7"/><ellipse cx="11.3" cy="1035.2" rx="3.7" ry="4.3" fill="#4f4f4f"/><ellipse cx="11.5" cy="1035.7" rx="1.9" ry="2.2" fill="#e6e6e6"/><ellipse cx="11.3" cy="1052" rx="3.7" ry="4.3" fill="#4f4f4f"/><ellipse cx="11.5" cy="1052.5" rx="1.9" ry="2.2" fill="#e6e6e6"/><ellipse cx="13.15" cy="1084.7" rx="6.5" ry="7.1" fill="#484848"/><ellipse cx="13.6" cy="1085.2" rx="4.8" ry="5.4" fill="#6f6f6f"/><rect x="13.6" y="1080" width="2" height="9" rx="1" fill="#8c8c8c" opacity=".8"/></g>
<g transform="translate(1218.4,0)"><rect x="2.2" y="220" width="25.6" height="808" fill="url(#rodg)"/><path d="M0,152.5 Q0,150.3 2.5,150.3 H23.5 Q25.6,150.3 25.6,152.5 V176 H0Z" fill="url(#capg)"/><path d="M0,152.5 Q0,150.3 2.5,150.3 H23.5 Q25.6,150.3 25.6,152.5 V152.2 H0Z" fill="#5e5e5e" opacity=".85"/><ellipse cx="11.7" cy="162" rx="8.2" ry="8.5" fill="#474747"/><ellipse cx="11.7" cy="162.6" rx="6.6" ry="6.9" fill="url(#ballg)"/><ellipse cx="11.8" cy="164" rx="4.3" ry="4.6" fill="#a3a3a3"/><path d="M5.8,159 Q11.7,152.5 17.6,159 Q11.7,156.5 5.8,159Z" fill="#2f2f2f" opacity=".85"/><ellipse cx="6.6" cy="161.5" rx="1.3" ry="2.6" fill="#f4f4f4" opacity=".9"/><ellipse cx="16.8" cy="161.5" rx="1.3" ry="2.6" fill="#f4f4f4" opacity=".9"/><path d="M-3.1,176.6 Q-3.1,175.6 -2.1,175.6 H28.7 Q29.7,175.6 29.7,176.6 V221 L28.5,222.8 H-1.9 L-3.1,221 Z" fill="url(#sleeveg)"/><rect x="-3.1" y="175.6" width="32.8" height="1.8" fill="#666" opacity=".65"/><path d="M-3.1,219.4 H29.7 V221 L28.5,222.8 H-1.9 L-3.1,221Z" fill="#5a5a5a" opacity=".6"/><circle cx="8.5" cy="196.25" r="3.4" fill="#4e4e4e"/><circle cx="8.9" cy="195.9" r="1.9" fill="#9a9a9a"/><circle cx="8.5" cy="213.1" r="3.4" fill="#4e4e4e"/><circle cx="8.9" cy="212.8" r="1.9" fill="#9a9a9a"/><path d="M-1.85,1026 Q-1.85,1024 0.15,1024 H27.7 Q29.7,1024 29.7,1026 V1095.3 H-0.3 Z" fill="url(#sleeveg2)"/><path d="M-1.85,1026 Q-1.85,1024 0.15,1024 H27.7 Q29.7,1024 29.7,1026 V1028 H-1.8Z" fill="#777" opacity=".4"/><rect x="-0.3" y="1093.3" width="30" height="2" fill="#c4c4c4" opacity=".7"/><ellipse cx="11.3" cy="1035.2" rx="3.7" ry="4.3" fill="#4f4f4f"/><ellipse cx="11.5" cy="1035.7" rx="1.9" ry="2.2" fill="#e6e6e6"/><ellipse cx="11.3" cy="1052" rx="3.7" ry="4.3" fill="#4f4f4f"/><ellipse cx="11.5" cy="1052.5" rx="1.9" ry="2.2" fill="#e6e6e6"/><ellipse cx="13.15" cy="1084.7" rx="6.5" ry="7.1" fill="#484848"/><ellipse cx="13.6" cy="1085.2" rx="4.8" ry="5.4" fill="#6f6f6f"/><rect x="13.6" y="1080" width="2" height="9" rx="1" fill="#8c8c8c" opacity=".8"/></g>
<g transform="translate(1262.3,0)"><rect x="2.2" y="220" width="25.6" height="808" fill="url(#rodg)"/><path d="M0,152.5 Q0,150.3 2.5,150.3 H23.5 Q25.6,150.3 25.6,152.5 V176 H0Z" fill="url(#capg)"/><path d="M0,152.5 Q0,150.3 2.5,150.3 H23.5 Q25.6,150.3 25.6,152.5 V152.2 H0Z" fill="#5e5e5e" opacity=".85"/><ellipse cx="11.7" cy="162" rx="8.2" ry="8.5" fill="#474747"/><ellipse cx="11.7" cy="162.6" rx="6.6" ry="6.9" fill="url(#ballg)"/><ellipse cx="11.8" cy="164" rx="4.3" ry="4.6" fill="#a3a3a3"/><path d="M5.8,159 Q11.7,152.5 17.6,159 Q11.7,156.5 5.8,159Z" fill="#2f2f2f" opacity=".85"/><ellipse cx="6.6" cy="161.5" rx="1.3" ry="2.6" fill="#f4f4f4" opacity=".9"/><ellipse cx="16.8" cy="161.5" rx="1.3" ry="2.6" fill="#f4f4f4" opacity=".9"/><path d="M-3.1,176.6 Q-3.1,175.6 -2.1,175.6 H28.7 Q29.7,175.6 29.7,176.6 V221 L28.5,222.8 H-1.9 L-3.1,221 Z" fill="url(#sleeveg)"/><rect x="-3.1" y="175.6" width="32.8" height="1.8" fill="#666" opacity=".65"/><path d="M-3.1,219.4 H29.7 V221 L28.5,222.8 H-1.9 L-3.1,221Z" fill="#5a5a5a" opacity=".6"/><circle cx="8.5" cy="196.25" r="3.4" fill="#4e4e4e"/><circle cx="8.9" cy="195.9" r="1.9" fill="#9a9a9a"/><circle cx="8.5" cy="213.1" r="3.4" fill="#4e4e4e"/><circle cx="8.9" cy="212.8" r="1.9" fill="#9a9a9a"/><path d="M-1.85,1026 Q-1.85,1024 0.15,1024 H27.7 Q29.7,1024 29.7,1026 V1095.3 H-0.3 Z" fill="url(#sleeveg2)"/><path d="M-1.85,1026 Q-1.85,1024 0.15,1024 H27.7 Q29.7,1024 29.7,1026 V1028 H-1.8Z" fill="#777" opacity=".4"/><rect x="-0.3" y="1093.3" width="30" height="2" fill="#c4c4c4" opacity=".7"/><ellipse cx="11.3" cy="1035.2" rx="3.7" ry="4.3" fill="#4f4f4f"/><ellipse cx="11.5" cy="1035.7" rx="1.9" ry="2.2" fill="#e6e6e6"/><ellipse cx="11.3" cy="1052" rx="3.7" ry="4.3" fill="#4f4f4f"/><ellipse cx="11.5" cy="1052.5" rx="1.9" ry="2.2" fill="#e6e6e6"/><ellipse cx="13.15" cy="1084.7" rx="6.5" ry="7.1" fill="#484848"/><ellipse cx="13.6" cy="1085.2" rx="4.8" ry="5.4" fill="#6f6f6f"/><rect x="13.6" y="1080" width="2" height="9" rx="1" fill="#8c8c8c" opacity=".8"/></g>
<g transform="translate(1306.4,0)"><rect x="2.2" y="220" width="25.6" height="808" fill="url(#rodg)"/><path d="M0,152.5 Q0,150.3 2.5,150.3 H23.5 Q25.6,150.3 25.6,152.5 V176 H0Z" fill="url(#capg)"/><path d="M0,152.5 Q0,150.3 2.5,150.3 H23.5 Q25.6,150.3 25.6,152.5 V152.2 H0Z" fill="#5e5e5e" opacity=".85"/><ellipse cx="11.7" cy="162" rx="8.2" ry="8.5" fill="#474747"/><ellipse cx="11.7" cy="162.6" rx="6.6" ry="6.9" fill="url(#ballg)"/><ellipse cx="11.8" cy="164" rx="4.3" ry="4.6" fill="#a3a3a3"/><path d="M5.8,159 Q11.7,152.5 17.6,159 Q11.7,156.5 5.8,159Z" fill="#2f2f2f" opacity=".85"/><ellipse cx="6.6" cy="161.5" rx="1.3" ry="2.6" fill="#f4f4f4" opacity=".9"/><ellipse cx="16.8" cy="161.5" rx="1.3" ry="2.6" fill="#f4f4f4" opacity=".9"/><path d="M-3.1,176.6 Q-3.1,175.6 -2.1,175.6 H28.7 Q29.7,175.6 29.7,176.6 V221 L28.5,222.8 H-1.9 L-3.1,221 Z" fill="url(#sleeveg)"/><rect x="-3.1" y="175.6" width="32.8" height="1.8" fill="#666" opacity=".65"/><path d="M-3.1,219.4 H29.7 V221 L28.5,222.8 H-1.9 L-3.1,221Z" fill="#5a5a5a" opacity=".6"/><circle cx="8.5" cy="196.25" r="3.4" fill="#4e4e4e"/><circle cx="8.9" cy="195.9" r="1.9" fill="#9a9a9a"/><circle cx="8.5" cy="213.1" r="3.4" fill="#4e4e4e"/><circle cx="8.9" cy="212.8" r="1.9" fill="#9a9a9a"/><path d="M-1.85,1026 Q-1.85,1024 0.15,1024 H27.7 Q29.7,1024 29.7,1026 V1095.3 H-0.3 Z" fill="url(#sleeveg2)"/><path d="M-1.85,1026 Q-1.85,1024 0.15,1024 H27.7 Q29.7,1024 29.7,1026 V1028 H-1.8Z" fill="#777" opacity=".4"/><rect x="-0.3" y="1093.3" width="30" height="2" fill="#c4c4c4" opacity=".7"/><ellipse cx="11.3" cy="1035.2" rx="3.7" ry="4.3" fill="#4f4f4f"/><ellipse cx="11.5" cy="1035.7" rx="1.9" ry="2.2" fill="#e6e6e6"/><ellipse cx="11.3" cy="1052" rx="3.7" ry="4.3" fill="#4f4f4f"/><ellipse cx="11.5" cy="1052.5" rx="1.9" ry="2.2" fill="#e6e6e6"/><ellipse cx="13.15" cy="1084.7" rx="6.5" ry="7.1" fill="#484848"/><ellipse cx="13.6" cy="1085.2" rx="4.8" ry="5.4" fill="#6f6f6f"/><rect x="13.6" y="1080" width="2" height="9" rx="1" fill="#8c8c8c" opacity=".8"/></g>
<g transform="translate(1350.5,0)"><rect x="2.2" y="220" width="25.6" height="808" fill="url(#rodg)"/><path d="M0,152.5 Q0,150.3 2.5,150.3 H23.5 Q25.6,150.3 25.6,152.5 V176 H0Z" fill="url(#capg)"/><path d="M0,152.5 Q0,150.3 2.5,150.3 H23.5 Q25.6,150.3 25.6,152.5 V152.2 H0Z" fill="#5e5e5e" opacity=".85"/><ellipse cx="11.7" cy="162" rx="8.2" ry="8.5" fill="#474747"/><ellipse cx="11.7" cy="162.6" rx="6.6" ry="6.9" fill="url(#ballg)"/><ellipse cx="11.8" cy="164" rx="4.3" ry="4.6" fill="#a3a3a3"/><path d="M5.8,159 Q11.7,152.5 17.6,159 Q11.7,156.5 5.8,159Z" fill="#2f2f2f" opacity=".85"/><ellipse cx="6.6" cy="161.5" rx="1.3" ry="2.6" fill="#f4f4f4" opacity=".9"/><ellipse cx="16.8" cy="161.5" rx="1.3" ry="2.6" fill="#f4f4f4" opacity=".9"/><path d="M-3.1,176.6 Q-3.1,175.6 -2.1,175.6 H28.7 Q29.7,175.6 29.7,176.6 V221 L28.5,222.8 H-1.9 L-3.1,221 Z" fill="url(#sleeveg)"/><rect x="-3.1" y="175.6" width="32.8" height="1.8" fill="#666" opacity=".65"/><path d="M-3.1,219.4 H29.7 V221 L28.5,222.8 H-1.9 L-3.1,221Z" fill="#5a5a5a" opacity=".6"/><circle cx="8.5" cy="196.25" r="3.4" fill="#4e4e4e"/><circle cx="8.9" cy="195.9" r="1.9" fill="#9a9a9a"/><circle cx="8.5" cy="213.1" r="3.4" fill="#4e4e4e"/><circle cx="8.9" cy="212.8" r="1.9" fill="#9a9a9a"/><path d="M-1.85,1026 Q-1.85,1024 0.15,1024 H27.7 Q29.7,1024 29.7,1026 V1095.3 H-0.3 Z" fill="url(#sleeveg2)"/><path d="M-1.85,1026 Q-1.85,1024 0.15,1024 H27.7 Q29.7,1024 29.7,1026 V1028 H-1.8Z" fill="#777" opacity=".4"/><rect x="-0.3" y="1093.3" width="30" height="2" fill="#c4c4c4" opacity=".7"/><ellipse cx="11.3" cy="1035.2" rx="3.7" ry="4.3" fill="#4f4f4f"/><ellipse cx="11.5" cy="1035.7" rx="1.9" ry="2.2" fill="#e6e6e6"/><ellipse cx="11.3" cy="1052" rx="3.7" ry="4.3" fill="#4f4f4f"/><ellipse cx="11.5" cy="1052.5" rx="1.9" ry="2.2" fill="#e6e6e6"/><ellipse cx="13.15" cy="1084.7" rx="6.5" ry="7.1" fill="#484848"/><ellipse cx="13.6" cy="1085.2" rx="4.8" ry="5.4" fill="#6f6f6f"/><rect x="13.6" y="1080" width="2" height="9" rx="1" fill="#8c8c8c" opacity=".8"/></g>
<g transform="translate(1397.5,0)"><rect x="2.2" y="220" width="25.6" height="808" fill="url(#rodg)"/><path d="M0,152.5 Q0,150.3 2.5,150.3 H23.5 Q25.6,150.3 25.6,152.5 V176 H0Z" fill="url(#capg)"/><path d="M0,152.5 Q0,150.3 2.5,150.3 H23.5 Q25.6,150.3 25.6,152.5 V152.2 H0Z" fill="#5e5e5e" opacity=".85"/><ellipse cx="11.7" cy="162" rx="8.2" ry="8.5" fill="#474747"/><ellipse cx="11.7" cy="162.6" rx="6.6" ry="6.9" fill="url(#ballg)"/><ellipse cx="11.8" cy="164" rx="4.3" ry="4.6" fill="#a3a3a3"/><path d="M5.8,159 Q11.7,152.5 17.6,159 Q11.7,156.5 5.8,159Z" fill="#2f2f2f" opacity=".85"/><ellipse cx="6.6" cy="161.5" rx="1.3" ry="2.6" fill="#f4f4f4" opacity=".9"/><ellipse cx="16.8" cy="161.5" rx="1.3" ry="2.6" fill="#f4f4f4" opacity=".9"/><path d="M-3.1,176.6 Q-3.1,175.6 -2.1,175.6 H28.7 Q29.7,175.6 29.7,176.6 V221 L28.5,222.8 H-1.9 L-3.1,221 Z" fill="url(#sleeveg)"/><rect x="-3.1" y="175.6" width="32.8" height="1.8" fill="#666" opacity=".65"/><path d="M-3.1,219.4 H29.7 V221 L28.5,222.8 H-1.9 L-3.1,221Z" fill="#5a5a5a" opacity=".6"/><circle cx="8.5" cy="196.25" r="3.4" fill="#4e4e4e"/><circle cx="8.9" cy="195.9" r="1.9" fill="#9a9a9a"/><circle cx="8.5" cy="213.1" r="3.4" fill="#4e4e4e"/><circle cx="8.9" cy="212.8" r="1.9" fill="#9a9a9a"/><path d="M-1.85,1026 Q-1.85,1024 0.15,1024 H27.7 Q29.7,1024 29.7,1026 V1095.3 H-0.3 Z" fill="url(#sleeveg2)"/><path d="M-1.85,1026 Q-1.85,1024 0.15,1024 H27.7 Q29.7,1024 29.7,1026 V1028 H-1.8Z" fill="#777" opacity=".4"/><rect x="-0.3" y="1093.3" width="30" height="2" fill="#c4c4c4" opacity=".7"/><ellipse cx="11.3" cy="1035.2" rx="3.7" ry="4.3" fill="#4f4f4f"/><ellipse cx="11.5" cy="1035.7" rx="1.9" ry="2.2" fill="#e6e6e6"/><ellipse cx="11.3" cy="1052" rx="3.7" ry="4.3" fill="#4f4f4f"/><ellipse cx="11.5" cy="1052.5" rx="1.9" ry="2.2" fill="#e6e6e6"/><ellipse cx="13.15" cy="1084.7" rx="6.5" ry="7.1" fill="#484848"/><ellipse cx="13.6" cy="1085.2" rx="4.8" ry="5.4" fill="#6f6f6f"/><rect x="13.6" y="1080" width="2" height="9" rx="1" fill="#8c8c8c" opacity=".8"/></g>
<g transform="translate(1440.6,0)"><rect x="2.2" y="220" width="25.6" height="808" fill="url(#rodg)"/><path d="M0,152.5 Q0,150.3 2.5,150.3 H23.5 Q25.6,150.3 25.6,152.5 V176 H0Z" fill="url(#capg)"/><path d="M0,152.5 Q0,150.3 2.5,150.3 H23.5 Q25.6,150.3 25.6,152.5 V152.2 H0Z" fill="#5e5e5e" opacity=".85"/><ellipse cx="11.7" cy="162" rx="8.2" ry="8.5" fill="#474747"/><ellipse cx="11.7" cy="162.6" rx="6.6" ry="6.9" fill="url(#ballg)"/><ellipse cx="11.8" cy="164" rx="4.3" ry="4.6" fill="#a3a3a3"/><path d="M5.8,159 Q11.7,152.5 17.6,159 Q11.7,156.5 5.8,159Z" fill="#2f2f2f" opacity=".85"/><ellipse cx="6.6" cy="161.5" rx="1.3" ry="2.6" fill="#f4f4f4" opacity=".9"/><ellipse cx="16.8" cy="161.5" rx="1.3" ry="2.6" fill="#f4f4f4" opacity=".9"/><path d="M-3.1,176.6 Q-3.1,175.6 -2.1,175.6 H28.7 Q29.7,175.6 29.7,176.6 V221 L28.5,222.8 H-1.9 L-3.1,221 Z" fill="url(#sleeveg)"/><rect x="-3.1" y="175.6" width="32.8" height="1.8" fill="#666" opacity=".65"/><path d="M-3.1,219.4 H29.7 V221 L28.5,222.8 H-1.9 L-3.1,221Z" fill="#5a5a5a" opacity=".6"/><circle cx="8.5" cy="196.25" r="3.4" fill="#4e4e4e"/><circle cx="8.9" cy="195.9" r="1.9" fill="#9a9a9a"/><circle cx="8.5" cy="213.1" r="3.4" fill="#4e4e4e"/><circle cx="8.9" cy="212.8" r="1.9" fill="#9a9a9a"/><path d="M-1.85,1026 Q-1.85,1024 0.15,1024 H27.7 Q29.7,1024 29.7,1026 V1095.3 H-0.3 Z" fill="url(#sleeveg2)"/><path d="M-1.85,1026 Q-1.85,1024 0.15,1024 H27.7 Q29.7,1024 29.7,1026 V1028 H-1.8Z" fill="#777" opacity=".4"/><rect x="-0.3" y="1093.3" width="30" height="2" fill="#c4c4c4" opacity=".7"/><ellipse cx="11.3" cy="1035.2" rx="3.7" ry="4.3" fill="#4f4f4f"/><ellipse cx="11.5" cy="1035.7" rx="1.9" ry="2.2" fill="#e6e6e6"/><ellipse cx="11.3" cy="1052" rx="3.7" ry="4.3" fill="#4f4f4f"/><ellipse cx="11.5" cy="1052.5" rx="1.9" ry="2.2" fill="#e6e6e6"/><ellipse cx="13.15" cy="1084.7" rx="6.5" ry="7.1" fill="#484848"/><ellipse cx="13.6" cy="1085.2" rx="4.8" ry="5.4" fill="#6f6f6f"/><rect x="13.6" y="1080" width="2" height="9" rx="1" fill="#8c8c8c" opacity=".8"/></g>
<g transform="translate(1485.6,0)"><rect x="2.2" y="220" width="25.6" height="808" fill="url(#rodg)"/><path d="M0,152.5 Q0,150.3 2.5,150.3 H23.5 Q25.6,150.3 25.6,152.5 V176 H0Z" fill="url(#capg)"/><path d="M0,152.5 Q0,150.3 2.5,150.3 H23.5 Q25.6,150.3 25.6,152.5 V152.2 H0Z" fill="#5e5e5e" opacity=".85"/><ellipse cx="11.7" cy="162" rx="8.2" ry="8.5" fill="#474747"/><ellipse cx="11.7" cy="162.6" rx="6.6" ry="6.9" fill="url(#ballg)"/><ellipse cx="11.8" cy="164" rx="4.3" ry="4.6" fill="#a3a3a3"/><path d="M5.8,159 Q11.7,152.5 17.6,159 Q11.7,156.5 5.8,159Z" fill="#2f2f2f" opacity=".85"/><ellipse cx="6.6" cy="161.5" rx="1.3" ry="2.6" fill="#f4f4f4" opacity=".9"/><ellipse cx="16.8" cy="161.5" rx="1.3" ry="2.6" fill="#f4f4f4" opacity=".9"/><path d="M-3.1,176.6 Q-3.1,175.6 -2.1,175.6 H28.7 Q29.7,175.6 29.7,176.6 V221 L28.5,222.8 H-1.9 L-3.1,221 Z" fill="url(#sleeveg)"/><rect x="-3.1" y="175.6" width="32.8" height="1.8" fill="#666" opacity=".65"/><path d="M-3.1,219.4 H29.7 V221 L28.5,222.8 H-1.9 L-3.1,221Z" fill="#5a5a5a" opacity=".6"/><circle cx="8.5" cy="196.25" r="3.4" fill="#4e4e4e"/><circle cx="8.9" cy="195.9" r="1.9" fill="#9a9a9a"/><circle cx="8.5" cy="213.1" r="3.4" fill="#4e4e4e"/><circle cx="8.9" cy="212.8" r="1.9" fill="#9a9a9a"/><path d="M-1.85,1026 Q-1.85,1024 0.15,1024 H27.7 Q29.7,1024 29.7,1026 V1095.3 H-0.3 Z" fill="url(#sleeveg2)"/><path d="M-1.85,1026 Q-1.85,1024 0.15,1024 H27.7 Q29.7,1024 29.7,1026 V1028 H-1.8Z" fill="#777" opacity=".4"/><rect x="-0.3" y="1093.3" width="30" height="2" fill="#c4c4c4" opacity=".7"/><ellipse cx="11.3" cy="1035.2" rx="3.7" ry="4.3" fill="#4f4f4f"/><ellipse cx="11.5" cy="1035.7" rx="1.9" ry="2.2" fill="#e6e6e6"/><ellipse cx="11.3" cy="1052" rx="3.7" ry="4.3" fill="#4f4f4f"/><ellipse cx="11.5" cy="1052.5" rx="1.9" ry="2.2" fill="#e6e6e6"/><ellipse cx="13.15" cy="1084.7" rx="6.5" ry="7.1" fill="#484848"/><ellipse cx="13.6" cy="1085.2" rx="4.8" ry="5.4" fill="#6f6f6f"/><rect x="13.6" y="1080" width="2" height="9" rx="1" fill="#8c8c8c" opacity=".8"/></g>
<g transform="translate(1526.5,0)"><rect x="2.2" y="220" width="25.6" height="808" fill="url(#rodg)"/><path d="M0,152.5 Q0,150.3 2.5,150.3 H23.5 Q25.6,150.3 25.6,152.5 V176 H0Z" fill="url(#capg)"/><path d="M0,152.5 Q0,150.3 2.5,150.3 H23.5 Q25.6,150.3 25.6,152.5 V152.2 H0Z" fill="#5e5e5e" opacity=".85"/><ellipse cx="11.7" cy="162" rx="8.2" ry="8.5" fill="#474747"/><ellipse cx="11.7" cy="162.6" rx="6.6" ry="6.9" fill="url(#ballg)"/><ellipse cx="11.8" cy="164" rx="4.3" ry="4.6" fill="#a3a3a3"/><path d="M5.8,159 Q11.7,152.5 17.6,159 Q11.7,156.5 5.8,159Z" fill="#2f2f2f" opacity=".85"/><ellipse cx="6.6" cy="161.5" rx="1.3" ry="2.6" fill="#f4f4f4" opacity=".9"/><ellipse cx="16.8" cy="161.5" rx="1.3" ry="2.6" fill="#f4f4f4" opacity=".9"/><path d="M-3.1,176.6 Q-3.1,175.6 -2.1,175.6 H28.7 Q29.7,175.6 29.7,176.6 V221 L28.5,222.8 H-1.9 L-3.1,221 Z" fill="url(#sleeveg)"/><rect x="-3.1" y="175.6" width="32.8" height="1.8" fill="#666" opacity=".65"/><path d="M-3.1,219.4 H29.7 V221 L28.5,222.8 H-1.9 L-3.1,221Z" fill="#5a5a5a" opacity=".6"/><circle cx="8.5" cy="196.25" r="3.4" fill="#4e4e4e"/><circle cx="8.9" cy="195.9" r="1.9" fill="#9a9a9a"/><circle cx="8.5" cy="213.1" r="3.4" fill="#4e4e4e"/><circle cx="8.9" cy="212.8" r="1.9" fill="#9a9a9a"/><path d="M-1.85,1026 Q-1.85,1024 0.15,1024 H27.7 Q29.7,1024 29.7,1026 V1095.3 H-0.3 Z" fill="url(#sleeveg2)"/><path d="M-1.85,1026 Q-1.85,1024 0.15,1024 H27.7 Q29.7,1024 29.7,1026 V1028 H-1.8Z" fill="#777" opacity=".4"/><rect x="-0.3" y="1093.3" width="30" height="2" fill="#c4c4c4" opacity=".7"/><ellipse cx="11.3" cy="1035.2" rx="3.7" ry="4.3" fill="#4f4f4f"/><ellipse cx="11.5" cy="1035.7" rx="1.9" ry="2.2" fill="#e6e6e6"/><ellipse cx="11.3" cy="1052" rx="3.7" ry="4.3" fill="#4f4f4f"/><ellipse cx="11.5" cy="1052.5" rx="1.9" ry="2.2" fill="#e6e6e6"/><ellipse cx="13.15" cy="1084.7" rx="6.5" ry="7.1" fill="#484848"/><ellipse cx="13.6" cy="1085.2" rx="4.8" ry="5.4" fill="#6f6f6f"/><rect x="13.6" y="1080" width="2" height="9" rx="1" fill="#8c8c8c" opacity=".8"/></g>

<g font-family="Liberation Sans, sans-serif" fill="#333333">
<g font-size="48" stroke="#fff" stroke-width="5" paint-order="stroke" stroke-linejoin="round">
<text x="409.5" y="412">2in (5cm)</text>
<text x="653" y="412">8.7in (22cm)</text>
</g>
<g font-size="48">
<text x="379" y="1099">1in (2.5cm)</text>
<text x="676.5" y="1099">0.7in (1.7cm)</text>
<text transform="translate(1046,452) rotate(90)" x="0" y="0">39.4in (100cm)</text>
</g>
</g>


<rect x="32.3" y="1209.4" width="1534.7" height="346.6" rx="12" fill="#eeeeee"/>
<rect x="76" y="1368" width="1334" height="3" fill="url(#divg)"/>
<g font-family="Liberation Sans, sans-serif" fill="#333333">
<g font-size="35.8">
<text x="76" y="1272">Item Model Number</text>
<text x="642" y="1272">Length</text>
<text x="1270" y="1272">Main Material</text>
<text x="76" y="1442">Net Weight</text>
</g>
<g font-size="48" font-weight="bold">
<text x="77" y="1332.5">CB10</text>
<text x="642" y="1332.5">393.7 in / 10 m</text>
<text x="1269" y="1332.5">Nylon</text>
<text x="77" y="1502.5">5.5 lbs / 2.5 kg</text>
</g>
</g>

</svg>
</body></html>
